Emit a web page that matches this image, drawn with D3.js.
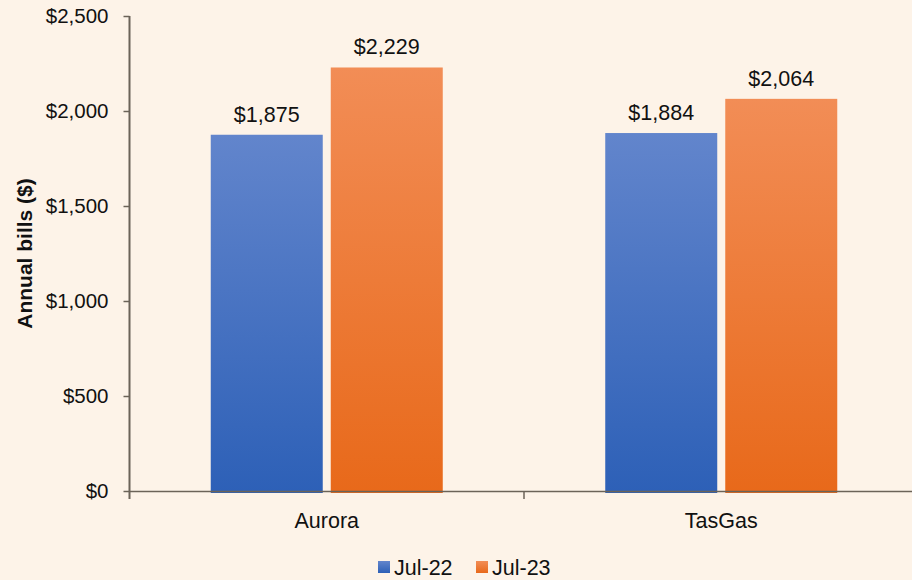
<!DOCTYPE html>
<html>
<head>
<meta charset="utf-8">
<script src="https://cdn.jsdelivr.net/npm/d3@7"></script>
<style>
  html, body { margin: 0; padding: 0; background: #fdf3e8; }
  svg { display: block; font-family: "Liberation Sans", Arial, Helvetica, sans-serif; }
</style>
</head>
<body>
<svg width="912" height="580"></svg>
<script>
var categories = ["Aurora", "TasGas"];
var series = ["Jul-22", "Jul-23"];
var jul22 = [1875, 1884];
var jul23 = [2229, 2064];
var yTicks = [0, 500, 1000, 1500, 2000, 2500];

var colors = {
    "Jul-22": ["#6285cc", "#2d60b7"],
    "Jul-23": ["#f28d56", "#e8691a"]
};

var svg = d3.select("svg"),
    plotLeft = 129.5,
    plotTop = 16,
    plotBottom = 491;

var data = categories.map(function (c, i) {
    return { cat: c, values: [{ s: "Jul-22", v: jul22[i] }, { s: "Jul-23", v: jul23[i] }] };
});

var x0 = d3.scaleBand()
    .domain(categories)
    .range([plotLeft, plotLeft + 2 * 394.5])
    .padding(0);

var x1 = d3.scaleBand()
    .domain(series)
    .range([0, x0.bandwidth()])
    .paddingInner(0.0667)
    .paddingOuter(0.677);

var y = d3.scaleLinear()
    .domain([0, 2500])
    .range([plotBottom, plotTop]);

// gradients
var defs = svg.append("defs");
series.forEach(function (s, i) {
    var grad = defs.append("linearGradient")
        .attr("id", "grad" + i)
        .attr("x1", 0).attr("y1", 0).attr("x2", 0).attr("y2", 1);
    grad.append("stop").attr("offset", "0%").attr("stop-color", colors[s][0]);
    grad.append("stop").attr("offset", "100%").attr("stop-color", colors[s][1]);
});

// bars
var groups = svg.append("g").selectAll("g")
    .data(data)
    .enter().append("g")
    .attr("transform", function (d) { return "translate(" + x0(d.cat) + ",0)"; });

groups.selectAll("rect")
    .data(function (d) { return d.values; })
    .enter().append("rect")
    .attr("x", function (d) { return x1(d.s); })
    .attr("y", function (d) { return y(d.v); })
    .attr("width", x1.bandwidth())
    .attr("height", function (d) { return y(0) - y(d.v) + 2; })
    .attr("fill", function (d) { return "url(#grad" + series.indexOf(d.s) + ")"; });

groups.selectAll("text")
    .data(function (d) { return d.values; })
    .enter().append("text")
    .attr("x", function (d) { return x1(d.s) + x1.bandwidth() / 2; })
    .attr("y", function (d) { return y(d.v) - 13; })
    .attr("text-anchor", "middle")
    .attr("font-size", "21.5px")
    .attr("fill", "#111")
    .text(function (d) { return d3.format("$,")(d.v); });

// y axis
var yAxis = svg.append("g")
    .attr("transform", "translate(" + plotLeft + ",0)")
    .call(d3.axisLeft(y).tickValues(yTicks).tickSize(6).tickPadding(15).tickFormat(d3.format("$,")));
yAxis.select(".domain").attr("stroke", "#6b6358").attr("stroke-width", 2)
    .attr("d", "M0," + plotTop + "V" + (plotBottom + 8));
yAxis.selectAll(".tick line").attr("stroke", "#6b6358").attr("stroke-width", 1.5);
yAxis.selectAll(".tick text").attr("font-size", "20.5px").attr("fill", "#111")
    .attr("font-family", "Liberation Sans, Arial, sans-serif");

// x axis
var xAxis = svg.append("g")
    .attr("transform", "translate(0," + plotBottom + ")")
    .call(d3.axisBottom(x0).tickSize(0).tickPadding(22));
xAxis.select(".domain").attr("stroke", "#6b6358").attr("stroke-width", 1.5);
xAxis.selectAll(".tick text").attr("font-size", "21.5px").attr("fill", "#111")
    .attr("font-family", "Liberation Sans, Arial, sans-serif");
xAxis.selectAll(".sep")
    .data(categories.slice(1))
    .enter().append("line")
    .attr("class", "sep")
    .attr("x1", function (d) { return x0(d); })
    .attr("x2", function (d) { return x0(d); })
    .attr("y1", 0).attr("y2", 8)
    .attr("stroke", "#6b6358").attr("stroke-width", 1.5);

// y title
svg.append("text")
    .attr("transform", "translate(32," + ((plotTop + plotBottom) / 2) + ") rotate(-90)")
    .attr("text-anchor", "middle")
    .attr("font-size", "21px")
    .attr("font-weight", "bold")
    .attr("fill", "#111")
    .text("Annual bills ($)");

// legend
var legend = svg.append("g").attr("transform", "translate(378,561)");
var items = legend.selectAll("g")
    .data(series)
    .enter().append("g")
    .attr("transform", function (d, i) { return "translate(" + (i * 98) + ",0)"; });
items.append("rect")
    .attr("width", 12).attr("height", 12)
    .attr("fill", function (d, i) { return "url(#grad" + i + ")"; });
items.append("text")
    .attr("x", 16).attr("y", 14)
    .attr("font-size", "21.5px")
    .attr("fill", "#111")
    .text(function (d) { return d; });
</script>
</body>
</html>
